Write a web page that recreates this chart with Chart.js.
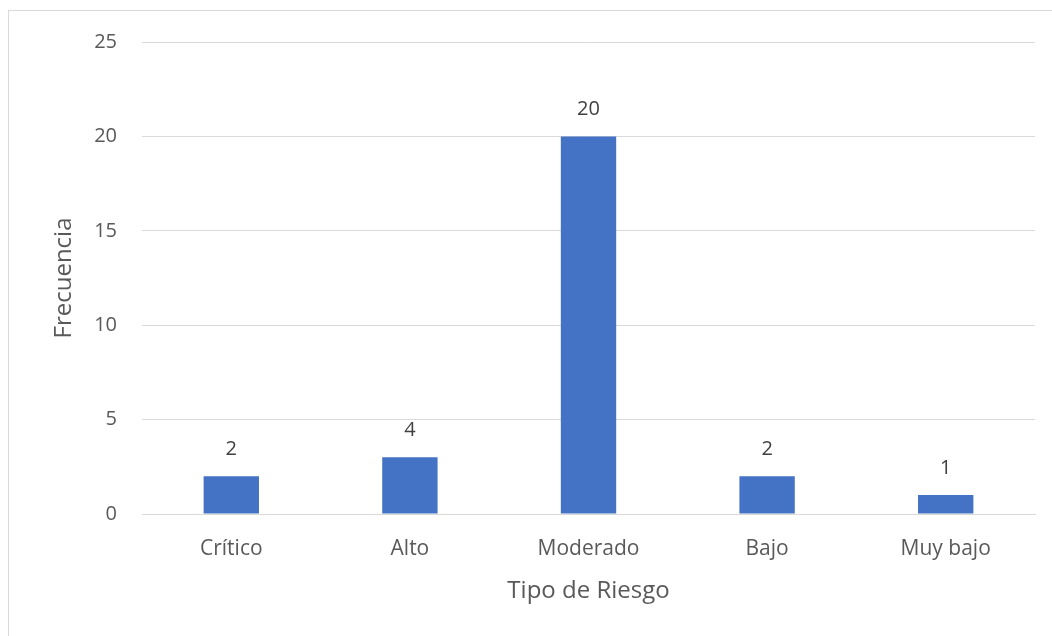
<!DOCTYPE html>
<html lang="es">
<head>
    <meta charset="UTF-8">
    <title>Frecuencia por Tipo de Riesgo</title>
    <script src="https://cdn.jsdelivr.net/npm/chart.js"></script>
    <style>
        html, body {
            margin: 0;
            padding: 0;
            background: #ffffff;
        }
        .frame {
            position: absolute;
            left: 8px;
            top: 10px;
            width: 1060px;
            height: 640px;
            border-left: 1px solid #d9d9d9;
            border-top: 1px solid #d9d9d9;
        }
        .chart-container {
            position: absolute;
            left: 0;
            top: 0;
            width: 1052px;
            height: 636px;
        }
    </style>
</head>
<body>
    <div class="frame"></div>
    <div class="chart-container">
        <canvas id="riskChart"></canvas>
    </div>

    <script>
        // data
        const categories = ['Crítico', 'Alto', 'Moderado', 'Bajo', 'Muy bajo'];
        const frequencies = [2, 3, 20, 2, 1];
        // labels as printed above each bar (Alto shows 4 on a bar of height 3)
        const barLabels = ['2', '4', '20', '2', '1'];
        const yTicks = [0, 5, 10, 15, 20, 25];

        const textColor = '#595959';
        const fontFamily = '"Open Sans", "Noto Sans", sans-serif';

        // simple data label drawing, no plugin available offline
        const barLabelPlugin = {
            id: 'barLabels',
            afterDatasetsDraw(chart) {
                const ctx = chart.ctx;
                const meta = chart.getDatasetMeta(0);
                ctx.save();
                ctx.fillStyle = '#404040';
                ctx.font = '20px ' + fontFamily;
                ctx.textAlign = 'center';
                ctx.textBaseline = 'alphabetic';
                meta.data.forEach((bar, i) => {
                    ctx.fillText(barLabels[i], bar.x, bar.y - 21);
                });
                ctx.restore();
            }
        };

        new Chart(document.getElementById('riskChart'), {
            type: 'bar',
            data: {
                labels: categories,
                datasets: [{
                    data: frequencies,
                    backgroundColor: '#4472c4',
                    categoryPercentage: 1,
                    barPercentage: 0.31
                }]
            },
            options: {
                responsive: true,
                maintainAspectRatio: false,
                animation: false,
                layout: { padding: { top: 42, right: 17, left: 0, bottom: 0 } },
                plugins: {
                    legend: { display: false },
                    tooltip: { enabled: false }
                },
                scales: {
                    x: {
                        grid: { display: false, drawTicks: false },
                        border: { color: '#d9d9d9', width: 1 },
                        ticks: {
                            color: textColor,
                            padding: 22,
                            font: { family: fontFamily, size: 21 }
                        },
                        title: {
                            display: true,
                            text: 'Tipo de Riesgo',
                            color: textColor,
                            padding: { top: 30, bottom: 30 },
                            font: { family: fontFamily, size: 24 }
                        },
                        afterFit: (scale) => { scale.height = 636 - 514; }
                    },
                    y: {
                        min: 0,
                        max: 25,
                        afterBuildTicks: (scale) => {
                            scale.ticks = yTicks.map(v => ({ value: v }));
                        },
                        grid: { color: '#d9d9d9', drawTicks: false },
                        border: { display: false },
                        ticks: {
                            color: textColor,
                            padding: 25,
                            font: { family: fontFamily, size: 20 }
                        },
                        title: {
                            display: true,
                            text: 'Frecuencia',
                            color: textColor,
                            padding: { top: 50, bottom: 50 },
                            font: { family: fontFamily, size: 24 }
                        },
                        afterFit: (scale) => { scale.width = 142; }
                    }
                }
            },
            plugins: [barLabelPlugin]
        });
    </script>
</body>
</html>
